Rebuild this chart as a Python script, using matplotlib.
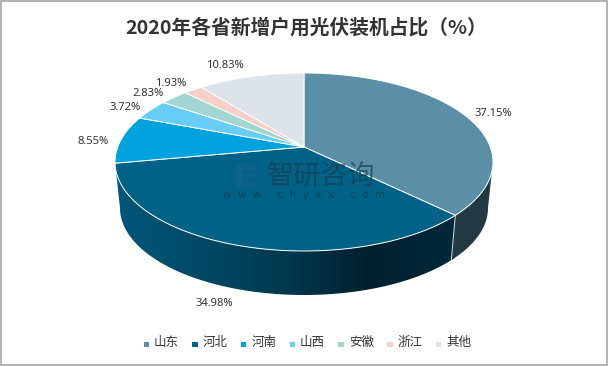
import numpy as np
import matplotlib
matplotlib.use('Agg')
import matplotlib.pyplot as plt
from matplotlib.colors import LinearSegmentedColormap
from matplotlib.patches import Polygon, Rectangle

plt.rcParams['font.family'] = ['Noto Sans CJK SC', 'DejaVu Sans']

provinces = ['山东', '河北', '河南', '山西', '安徽', '浙江', '其他']
shares = [37.15, 34.98, 8.55, 3.72, 2.83, 1.93, 10.83]
share_labels = ['37.15%', '34.98%', '8.55%', '3.72%', '2.83%', '1.93%', '10.83%']
colors = ['#5b8fa8', '#006286', '#00a2de', '#67ccf6', '#a1d6d3', '#f6cfc8', '#dce4ea']
title = '2020年各省新增户用光伏装机占比（%）'

# where the labels sit, in pixels
label_x = [493, 214, 93, 125, 148, 171, 225]
label_y = [113, 303, 141, 107, 93, 84, 65]

# pie geometry in pixels: the view tilts, so the slices meet above the ellipse centre
cx, cy, rx, ry = 304, 162, 189, 89
apex_y = 147
stretch = 2.12
low_cy, low_rx, low_ry = 208, 184, 87


def edge_angle(theta):
    # cast a ray from the apex and find where it hits the rim
    dx = stretch * np.sin(theta)
    dy = -np.cos(theta)
    oy = apex_y - cy
    a = (dx / rx) ** 2 + (dy / ry) ** 2
    b = 2 * oy * dy / ry ** 2
    c = (oy / ry) ** 2 - 1
    s = (-b + np.sqrt(b * b - 4 * a * c)) / (2 * a)
    t = np.arctan2((s * dx) / rx, -(oy + s * dy) / ry)
    return t % (2 * np.pi)


fractions = np.cumsum([0] + shares) / sum(shares)
edges = [edge_angle(f * 2 * np.pi) for f in fractions[:-1]] + [2 * np.pi]

fig = plt.figure(figsize=(6.08, 3.66), dpi=100)
ax = fig.add_axes([0, 0, 1, 1])
ax.set_xlim(0, 608)
ax.set_ylim(366, 0)
ax.axis('off')

ax.add_patch(Rectangle((1, 1), 606, 364, fc='white', ec='#a6a6a6', lw=1.2))

# side wall
t_wall_end = edges[1]
t_side = np.linspace(np.pi / 2, 3 * np.pi / 2, 200)
wall_x = np.r_[cx + rx * np.sin(t_side), (cx + low_rx * np.sin(t_side))[::-1]]
wall_y = np.r_[cy - ry * np.cos(t_side), (low_cy - low_ry * np.cos(t_side))[::-1]]
wall = Polygon(np.c_[wall_x, wall_y], fc='none', ec='none')
ax.add_patch(wall)
wall_cmap = LinearSegmentedColormap.from_list(
    'wall', ['#00283a', '#00202e', '#00394f', '#004a66', '#00567a'])
grad = np.linspace(0, 1, 300).reshape(1, -1)
img = ax.imshow(grad, extent=(455, 115, 300, 150), cmap=wall_cmap, aspect='auto', zorder=1)
img.set_clip_path(wall)

# right part of the wall belongs to the first slice
t_r = np.linspace(np.pi / 2, t_wall_end, 60)
r_x = np.r_[cx + rx * np.sin(t_r), (cx + low_rx * np.sin(t_r))[::-1]]
r_y = np.r_[cy - ry * np.cos(t_r), (low_cy - low_ry * np.cos(t_r))[::-1]]
ax.add_patch(Polygon(np.c_[r_x, r_y], fc='#233a44', ec='none', zorder=2))
ax.plot([r_x[59], r_x[60]], [r_y[59], r_y[60]], color='#d5dde0', lw=0.7, zorder=2)

# top face
for i in range(len(shares)):
    t = np.linspace(edges[i], edges[i + 1], 100)
    xs = np.r_[cx, cx + rx * np.sin(t)]
    ys = np.r_[apex_y, cy - ry * np.cos(t)]
    ax.add_patch(Polygon(np.c_[xs, ys], fc=colors[i], ec='white', lw=0.7, zorder=3))

# watermark
ax.add_patch(Rectangle((236, 165), 7, 22, fc='#1f5f95', alpha=0.5, ec='none', zorder=4))
ax.add_patch(Rectangle((243, 165), 15, 5, fc='#1f5f95', alpha=0.5, ec='none', zorder=4))
ax.add_patch(Rectangle((246, 174), 12, 4, fc='#1f5f95', alpha=0.5, ec='none', zorder=4))
ax.add_patch(Rectangle((246, 183), 12, 4, fc='#1f5f95', alpha=0.5, ec='none', zorder=4))
ax.text(321, 176, '智研咨询', fontsize=19.5, color='#143d55', alpha=0.7,
        ha='center', va='center', zorder=4)
ax.text(304, 195, 'w  w  w  .  c  h  y  x  x  .  c  o  m', fontsize=7.4, color='#0f3a52', alpha=0.8,
        ha='center', va='center', family=['DejaVu Sans'], zorder=4)

for x, y, s in zip(label_x, label_y, share_labels):
    ax.text(x, y, s, fontsize=8.1, color='#333333', ha='center', va='center',
            family=['Noto Sans'], zorder=5)

ax.text(306, 27, title, fontsize=14.2, fontweight='bold', color='#333333',
        ha='center', va='center')

# legend
for i, name in enumerate(provinces):
    x0 = 146 + i * 48.7
    ax.add_patch(Rectangle((x0 - 2.5, 341.5), 5.5, 5.5, fc=colors[i], ec='none'))
    ax.text(x0 + 8, 342.5, name, fontsize=9, color='#333333', ha='left', va='center')

fig.savefig('out.png', dpi=100)
